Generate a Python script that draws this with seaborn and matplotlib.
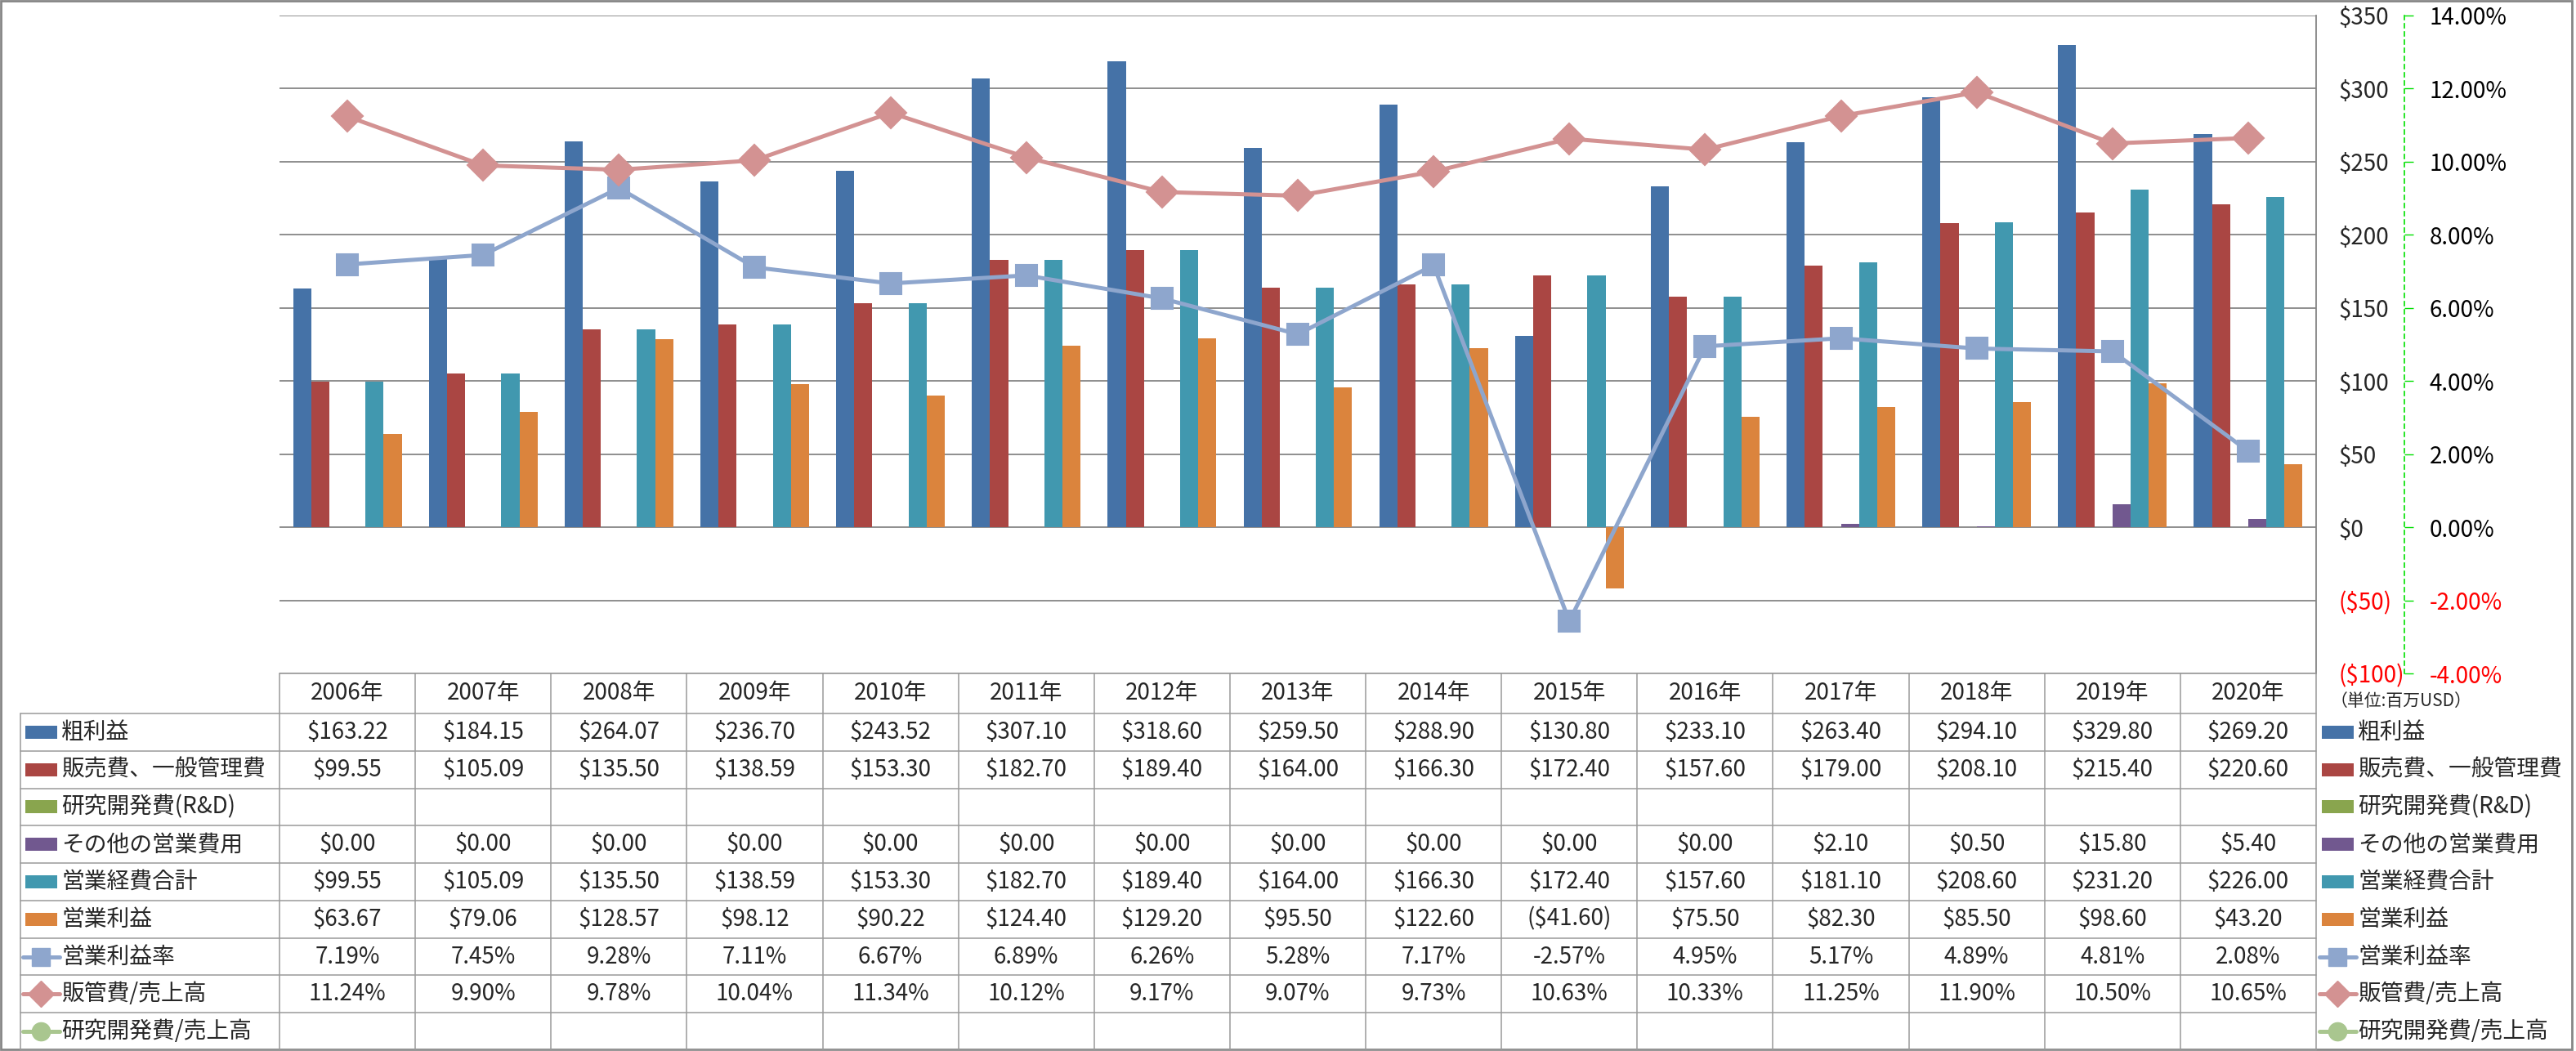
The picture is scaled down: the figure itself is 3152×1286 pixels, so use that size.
# 損益推移チャート(棒+折れ線+データテーブル)
import numpy as np
import pandas as pd
import matplotlib
matplotlib.use('Agg')
import matplotlib.pyplot as plt
import matplotlib.transforms as mtransforms
from matplotlib.lines import Line2D
from matplotlib.patches import Rectangle
from matplotlib.ticker import FuncFormatter, MultipleLocator
import seaborn as sns

years = [f'{y}年' for y in range(2006, 2021)]

gross_profit = [163.22, 184.15, 264.07, 236.70, 243.52, 307.10, 318.60, 259.50,
                288.90, 130.80, 233.10, 263.40, 294.10, 329.80, 269.20]
sga = [99.55, 105.09, 135.50, 138.59, 153.30, 182.70, 189.40, 164.00,
       166.30, 172.40, 157.60, 179.00, 208.10, 215.40, 220.60]
rnd = [None] * 15
other_opex = [0, 0, 0, 0, 0, 0, 0, 0, 0, 0, 0, 2.10, 0.50, 15.80, 5.40]
total_opex = [99.55, 105.09, 135.50, 138.59, 153.30, 182.70, 189.40, 164.00,
              166.30, 172.40, 157.60, 181.10, 208.60, 231.20, 226.00]
op_income = [63.67, 79.06, 128.57, 98.12, 90.22, 124.40, 129.20, 95.50,
             122.60, -41.60, 75.50, 82.30, 85.50, 98.60, 43.20]
op_margin = [7.19, 7.45, 9.28, 7.11, 6.67, 6.89, 6.26, 5.28,
             7.17, -2.57, 4.95, 5.17, 4.89, 4.81, 2.08]
sga_ratio = [11.24, 9.90, 9.78, 10.04, 11.34, 10.12, 9.17, 9.07,
             9.73, 10.63, 10.33, 11.25, 11.90, 10.50, 10.65]
rnd_ratio = [None] * 15

bar_names = ['粗利益', '販売費、一般管理費', '研究開発費(R&D)', 'その他の営業費用', '営業経費合計', '営業利益']
bar_colors = ['#4572A7', '#AA4643', '#89A54E', '#71588F', '#4198AF', '#DB843D']
line_names = ['営業利益率', '販管費/売上高', '研究開発費/売上高']
line_colors = ['#8EA6CD', '#D39292', '#A9C68F']
line_markers = ['s', 'D', 'o']

bar_values = [gross_profit, sga, rnd, other_opex, total_opex, op_income]
line_values = [op_margin, sga_ratio, rnd_ratio]

sns.set_style('white')
plt.rcParams['font.family'] = ['Noto Sans CJK JP', 'DejaVu Sans']

W, H = 3152, 1286
fig = plt.figure(figsize=(W / 100, H / 100), dpi=100)
ax = fig.add_axes([342 / W, 1 - 824 / H, (2834 - 342) / W, (824 - 19) / H])

# ==============================================
# bars
rows = [(yr, name, v) for name, vals in zip(bar_names, bar_values) for yr, v in zip(years, vals)]
df = pd.DataFrame(rows, columns=['year', 'series', 'value'])
df['value'] = pd.to_numeric(df['value'])
df = df.dropna()

sns.barplot(data=df, x='year', y='value', hue='series', order=years, hue_order=bar_names,
            palette=dict(zip(bar_names, bar_colors)), width=0.8, gap=0, saturation=1,
            errorbar=None, legend=False, linewidth=0, ax=ax)

# ==============================================
# lines (secondary axis)
ax2 = ax.twinx()
xs = np.arange(len(years))
for name, vals, c, m in zip(line_names, line_values, line_colors, line_markers):
    y = np.array([np.nan if v is None else v for v in vals], dtype=float)
    if np.all(np.isnan(y)):
        continue
    sns.lineplot(x=xs, y=y, ax=ax2, color=c, marker=m, markersize=19, markeredgecolor=c,
                 markeredgewidth=1.5, linewidth=3.6, legend=False)

# primary axis (twinx moves ticks to the left, so set this afterwards)
ax.set_xlim(-0.5, len(years) - 0.5)
ax.set_ylim(-100, 350)
ax.yaxis.set_major_locator(MultipleLocator(50))
ax.yaxis.set_major_formatter(FuncFormatter(lambda v, p: f'${v:.0f}' if v >= 0 else f'(${-v:.0f})'))
ax.yaxis.tick_right()
ax.tick_params(axis='y', left=False, right=False, labelleft=False, labelright=True,
               length=0, pad=20, labelsize=20)
ax.set_xticks(range(len(years)))
ax.set_xticklabels([])
ax.tick_params(axis='x', length=0)
ax.set_xlabel('')
ax.set_ylabel('')
ax.grid(axis='y', color='#868686', lw=1.3)
ax.grid(axis='x', visible=False)
ax.set_axisbelow(True)
for s in ['top', 'left', 'bottom']:
    ax.spines[s].set_visible(False)
ax.spines['right'].set_color('#868686')
ax.spines['right'].set_linewidth(1.3)

ax2.set_ylim(-4, 14)
ax2.yaxis.set_major_locator(MultipleLocator(2))
ax2.yaxis.set_major_formatter(FuncFormatter(lambda v, p: f'{v:.2f}%'))
ax2.set_ylabel('')
ax2.spines['right'].set_position(('axes', (2942 - 342) / (2834 - 342)))
ax2.spines['right'].set_color('#00E000')
ax2.spines['right'].set_linestyle((0, (3, 3)))
ax2.spines['right'].set_linewidth(1.2)
for s in ['top', 'left', 'bottom']:
    ax2.spines[s].set_visible(False)
ax2.tick_params(axis='y', direction='out', length=8, width=1, color='#00E000',
                labelcolor='black', pad=14, labelsize=20)
ax2.grid(False)

for t, v in zip(ax.yaxis.get_major_ticks(), ax.get_yticks()):
    if v < 0:
        t.label2.set_color('red')
for t, v in zip(ax2.yaxis.get_major_ticks(), ax2.get_yticks()):
    if v < 0:
        t.label2.set_color('red')

# ==============================================
# data table
px = mtransforms.Affine2D().scale(1 / W, -1 / H).translate(0, 1) + fig.transFigure
colx = mtransforms.blended_transform_factory(ax.transData, px)

head_top, head_bot, tab_bot = 824, 873, 1285
row_h = (tab_bot - head_bot) / 9
grid_c = '#9a9a9a'


def money(v):
    if v is None:
        return ''
    return f'${v:,.2f}' if v >= 0 else f'(${-v:,.2f})'


def pct(v):
    return '' if v is None else f'{v:.2f}%'


table_rows = [(n, [money(v) for v in vals], c, None) for n, vals, c in zip(bar_names, bar_values, bar_colors)]
table_rows += [(n, [pct(v) for v in vals], c, m) for n, vals, c, m in zip(line_names, line_values, line_colors, line_markers)]

n = len(years)
for k in range(n + 1):
    fig.add_artist(Line2D([k - 0.5, k - 0.5], [head_top, tab_bot], transform=colx, color=grid_c, lw=1.1))
fig.add_artist(Line2D([-0.5, n - 0.5], [head_top, head_top], transform=colx, color=grid_c, lw=1.1))
fig.add_artist(Line2D([25, 25], [head_bot, tab_bot], transform=px, color=grid_c, lw=1.1))
for r in range(10):
    yy = head_bot + r * row_h
    fig.add_artist(Line2D([25, 2834], [yy, yy], transform=px, color=grid_c, lw=1.1))

for i, yr in enumerate(years):
    fig.text(i, (head_top + head_bot) / 2, yr, transform=colx, ha='center', va='center', fontsize=20)


def legend_key(x0, yc, color, marker):
    if marker is None:
        fig.add_artist(Rectangle((x0 + 3, yc - 8), 39, 16, transform=px, color=color, lw=0))
    else:
        fig.add_artist(Line2D([x0, x0 + 45], [yc, yc], transform=px, color=color, lw=3.6))
        fig.add_artist(Line2D([x0 + 22], [yc], transform=px, color=color, marker=marker,
                              markersize=16, markeredgecolor=color))


for r, (name, cells, color, marker) in enumerate(table_rows):
    yc = head_bot + (r + 0.5) * row_h
    legend_key(28, yc, color, marker)
    fig.text(75, yc, name, transform=px, ha='left', va='center', fontsize=20)
    legend_key(2838, yc, color, marker)
    fig.text(2885, yc, name, transform=px, ha='left', va='center', fontsize=20)
    for i, s in enumerate(cells):
        fig.text(i, yc, s, transform=colx, ha='center', va='center', fontsize=20)

fig.text(2852, 858, '（単位:百万USD）', transform=px, ha='left', va='center', fontsize=15)

fig.add_artist(Rectangle((1.5, 1), 3146, 1283, transform=px, fill=False, edgecolor='#868686', lw=2))

plt.savefig('out.png', dpi=100)
